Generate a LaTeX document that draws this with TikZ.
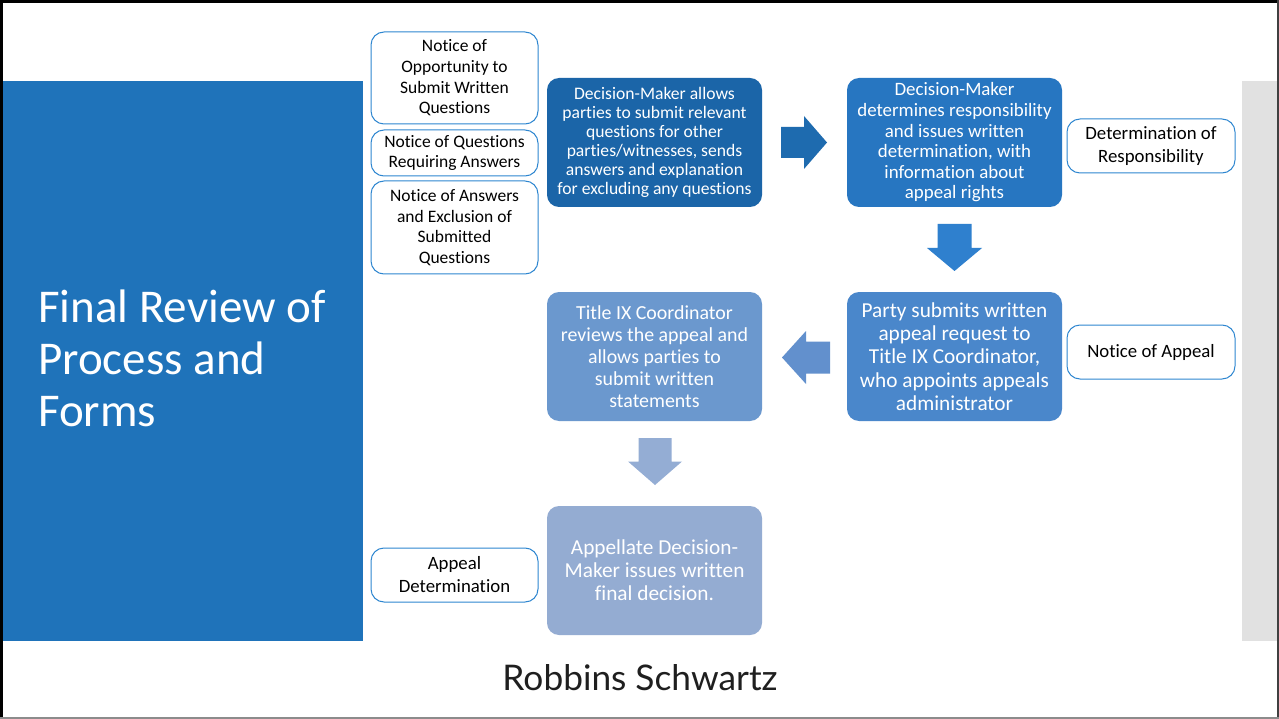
\documentclass[tikz,border=0pt]{standalone}
\usepackage{fontspec}
\setmainfont{Carlito}[Ligatures=CommonOff]
\newfontfamily\logofont{Lato}
\usetikzlibrary{calc}
\definecolor{panelblue}{RGB}{31,115,186}
\definecolor{panelgray}{RGB}{225,225,225}
\definecolor{noteline}{RGB}{46,134,208}
\definecolor{cA}{RGB}{27,101,168}
\definecolor{aA}{RGB}{30,107,175}
\definecolor{cB}{RGB}{39,118,193}
\definecolor{aB}{RGB}{47,128,206}
\definecolor{cC}{RGB}{74,135,203}
\definecolor{aC}{RGB}{98,144,205}
\definecolor{cD}{RGB}{107,152,206}
\definecolor{aD}{RGB}{148,173,212}
\definecolor{cE}{RGB}{148,172,210}
\tikzset{
  notebox/.style={draw=noteline, line width=1pt, fill=white, rounded corners=13pt,
    minimum width=167pt, inner sep=0pt, align=center, text=black,
    font=\fontsize{17.5}{20.7}\selectfont},
  wnote/.style={minimum width=168pt, minimum height=54pt, font=\fontsize{18.8}{23}\selectfont},
  stepbox/.style={rounded corners=12pt, minimum width=215pt, minimum height=129pt,
    inner sep=0pt, align=center, text=white, draw=none}
}
\begin{document}
\begin{tikzpicture}[x=1pt,y=-1pt]
\useasboundingbox (0,0) rectangle (1279,719);
\fill[white] (0,0) rectangle (1279,719);
% panels
\fill[panelblue] (3,81) rectangle (363,641);
\fill[panelgray] (1242,81) rectangle (1277,641);
% frame
\draw[black, line width=3pt] (1.5,719) -- (1.5,1.5) -- (1279,1.5);
\draw[black!75, line width=1.5pt] (1278.2,0) -- (1278.2,719);
\draw[black!45, line width=1.5pt] (0,718.2) -- (1279,718.2);
% title
\node[anchor=base west, align=left, text=white, inner sep=0pt,
  font=\fontsize{47}{52}\selectfont] (title) at (38,426)
  {Final Review of\\Process and\\Forms};
% notice boxes
\node[notebox, minimum height=92pt] (n1) at (454.5,78) {\raisebox{-1.5pt}{\parbox{160pt}{\centering Notice of\\Opportunity to\\Submit Written\\Questions}}};
\node[notebox, minimum height=46pt] (n2) at (454.5,153) {Notice of Questions\\Requiring Answers};
\node[notebox, minimum height=93pt] (n3) at (454.5,227.5) {\raisebox{-1pt}{\parbox{160pt}{\centering Notice of Answers\\and Exclusion of\\Submitted\\Questions}}};
\node[notebox, wnote] (d1) at (1151,146) {Determination of\\Responsibility};
\node[notebox, wnote] (d2) at (1151,352) {Notice of Appeal};
\node[notebox, wnote, minimum width=167pt] (d3) at (454.5,575) {Appeal\\Determination};
% step boxes
\node[stepbox, fill=cA, font=\fontsize{17.6}{19}\selectfont] (b1) at (654.5,142.5)
  {Decision-Maker allows\\parties to submit relevant\\questions for other\\parties/witnesses, sends\\answers and explanation\\for excluding any questions};
\node[stepbox, fill=cB, font=\fontsize{18.9}{20.6}\selectfont] (b2) at (954.5,142.5)
  {Decision-Maker\\determines responsibility\\and issues written\\determination, with\\information about\\appeal rights};
\node[stepbox, fill=cC, font=\fontsize{21.3}{23.3}\selectfont] (b3) at (954.5,356.5)
  {Party submits written\\appeal request to\\Title IX Coordinator,\\who appoints appeals\\administrator};
\node[stepbox, fill=cD, font=\fontsize{19.9}{22}\selectfont] (b4) at (654.5,356.5)
  {Title IX Coordinator\\reviews the appeal and\\allows parties to\\submit written\\statements};
\node[stepbox, fill=cE, font=\fontsize{21.3}{23}\selectfont] (b5) at (654.5,570.5)
  {Appellate Decision-\\Maker issues written\\final decision.};
% block arrows between the step boxes
\coordinate (a1) at ($(b1.east)!0.5!(b2.west)+(-0.5,0)$);
\coordinate (a2) at ($(b2.south)!0.5!(b3.north)+(0,-2)$);
\coordinate (a3) at ($(b3.west)!0.5!(b4.east)+(1.5,1)$);
\coordinate (a4) at ($(b4.south)!0.5!(b5.north)+(0.5,-2)$);
\fill[aA] (a1) ++(-23,-15.5) -- ++(23,0) -- ++(0,-11) -- ++(23,26.5) -- ++(-23,26.5) -- ++(0,-11) -- ++(-23,0) -- cycle;
\fill[aB] (a2) ++(-17,-23.5) -- ++(34,0) -- ++(0,24) -- ++(10.5,0) -- ++(-27.5,23) -- ++(-27.5,-23) -- ++(10.5,0) -- cycle;
\fill[aC] (a3) ++(24,-16) -- ++(-24,0) -- ++(0,-10.5) -- ++(-24,26.5) -- ++(24,26.5) -- ++(0,-10.5) -- ++(24,0) -- cycle;
\fill[aD] (a4) ++(-16.5,-23.5) -- ++(33,0) -- ++(0,23.5) -- ++(10.5,0) -- ++(-27,23.5) -- ++(-27,-23.5) -- ++(10.5,0) -- cycle;
% logo
\node[anchor=base, inner sep=0pt, text=black!88, font=\logofont\fontsize{35.3}{40}\selectfont] (logo) at (640,690) {Robbins Schwartz};
\end{tikzpicture}
\end{document}
